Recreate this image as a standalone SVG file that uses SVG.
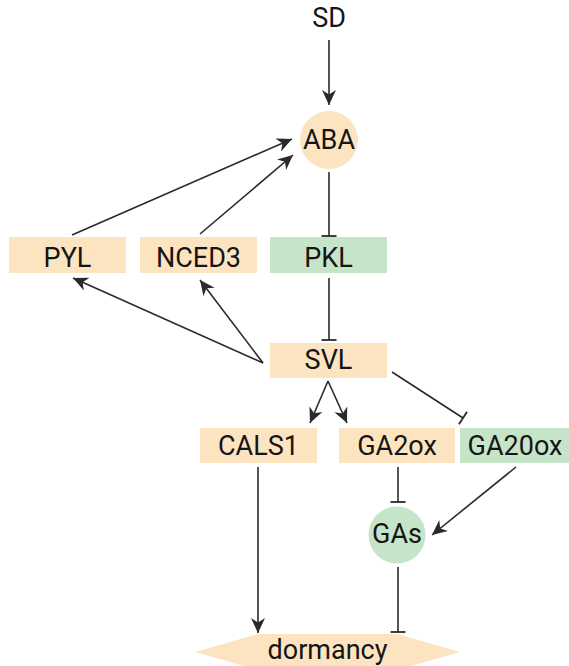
<svg xmlns="http://www.w3.org/2000/svg" width="569" height="666" viewBox="0 0 569 666">
<style>
.t{font-family:Roboto,"Liberation Sans",sans-serif;font-size:27px;fill:#151515;text-anchor:middle}
.p{fill:#FCE4C0}
.g{fill:#C5E4C8}
.c{stroke:#2a2a2a;stroke-width:1.6;fill:none}
.a{marker-end:url(#arr)}
.b{marker-end:url(#tee)}
</style>
<defs>
<marker id="arr" markerUnits="userSpaceOnUse" viewBox="-15 -8 17 16" refX="0" refY="0" markerWidth="17" markerHeight="16" orient="auto">
<path d="M0,0 L-15,-7 L-10.5,0 L-15,7 z" fill="#2a2a2a"/>
</marker>
<marker id="tee" markerUnits="userSpaceOnUse" viewBox="-2 -8 4 16" refX="0" refY="0" markerWidth="4" markerHeight="16" orient="auto">
<path d="M0,-7.5 L0,7.5" stroke="#2a2a2a" stroke-width="1.8"/>
</marker>
</defs>
<g id="connectors">
<path class="c a" d="M329,40 L329,105"/>
<path class="c b" d="M329,172 L329,236"/>
<path class="c b" d="M329,278 L329,340"/>
<path class="c a" d="M72,235 L292,139"/>
<path class="c a" d="M200,234 L293,155"/>
<path class="c a" d="M263,363 L73,278"/>
<path class="c a" d="M263,363 L200,280"/>
<path class="c a" d="M328,381 L310,423"/>
<path class="c a" d="M328,381 L347,423"/>
<path class="c b" d="M392,372 L463,418"/>
<path class="c b" d="M398,467 L398,502"/>
<path class="c a" d="M516,467 L432,535"/>
<path class="c b" d="M398,567 L398,632"/>
<path class="c a" d="M258,467 L258,633"/>
</g>
<g id="SD"><text class="t" x="329" y="27">SD</text></g>
<g id="ABA"><circle class="p" cx="329" cy="140" r="29"/><text class="t" x="329" y="149">ABA</text></g>
<g id="PYL"><rect class="p" x="9" y="237" width="117" height="36"/><text class="t" x="67.5" y="267">PYL</text></g>
<g id="NCED3"><rect class="p" x="140" y="237" width="117" height="36"/><text class="t" x="198.5" y="267">NCED3</text></g>
<g id="PKL"><rect class="g" x="270" y="237" width="117" height="36"/><text class="t" x="328.5" y="267">PKL</text></g>
<g id="SVL"><rect class="p" x="270" y="343" width="117" height="35"/><text class="t" x="328.5" y="369">SVL</text></g>
<g id="CALS1"><rect class="p" x="200" y="428" width="117" height="35"/><text class="t" x="258.5" y="455">CALS1</text></g>
<g id="GA2ox"><rect class="p" x="339" y="428" width="116" height="35"/><text class="t" x="397" y="455">GA2ox</text></g>
<g id="GA20ox"><rect class="g" x="460" y="428" width="109" height="35"/><text class="t" x="515" y="455">GA20ox</text></g>
<g id="GAs"><circle class="g" cx="397" cy="535" r="28.5"/><text class="t" x="397" y="543">GAs</text></g>
<g id="dormancy"><polygon class="p" points="195,652 258,634 397,634 460,652 397,670 258,670"/><text class="t" x="327.5" y="659">dormancy</text></g>
</svg>
